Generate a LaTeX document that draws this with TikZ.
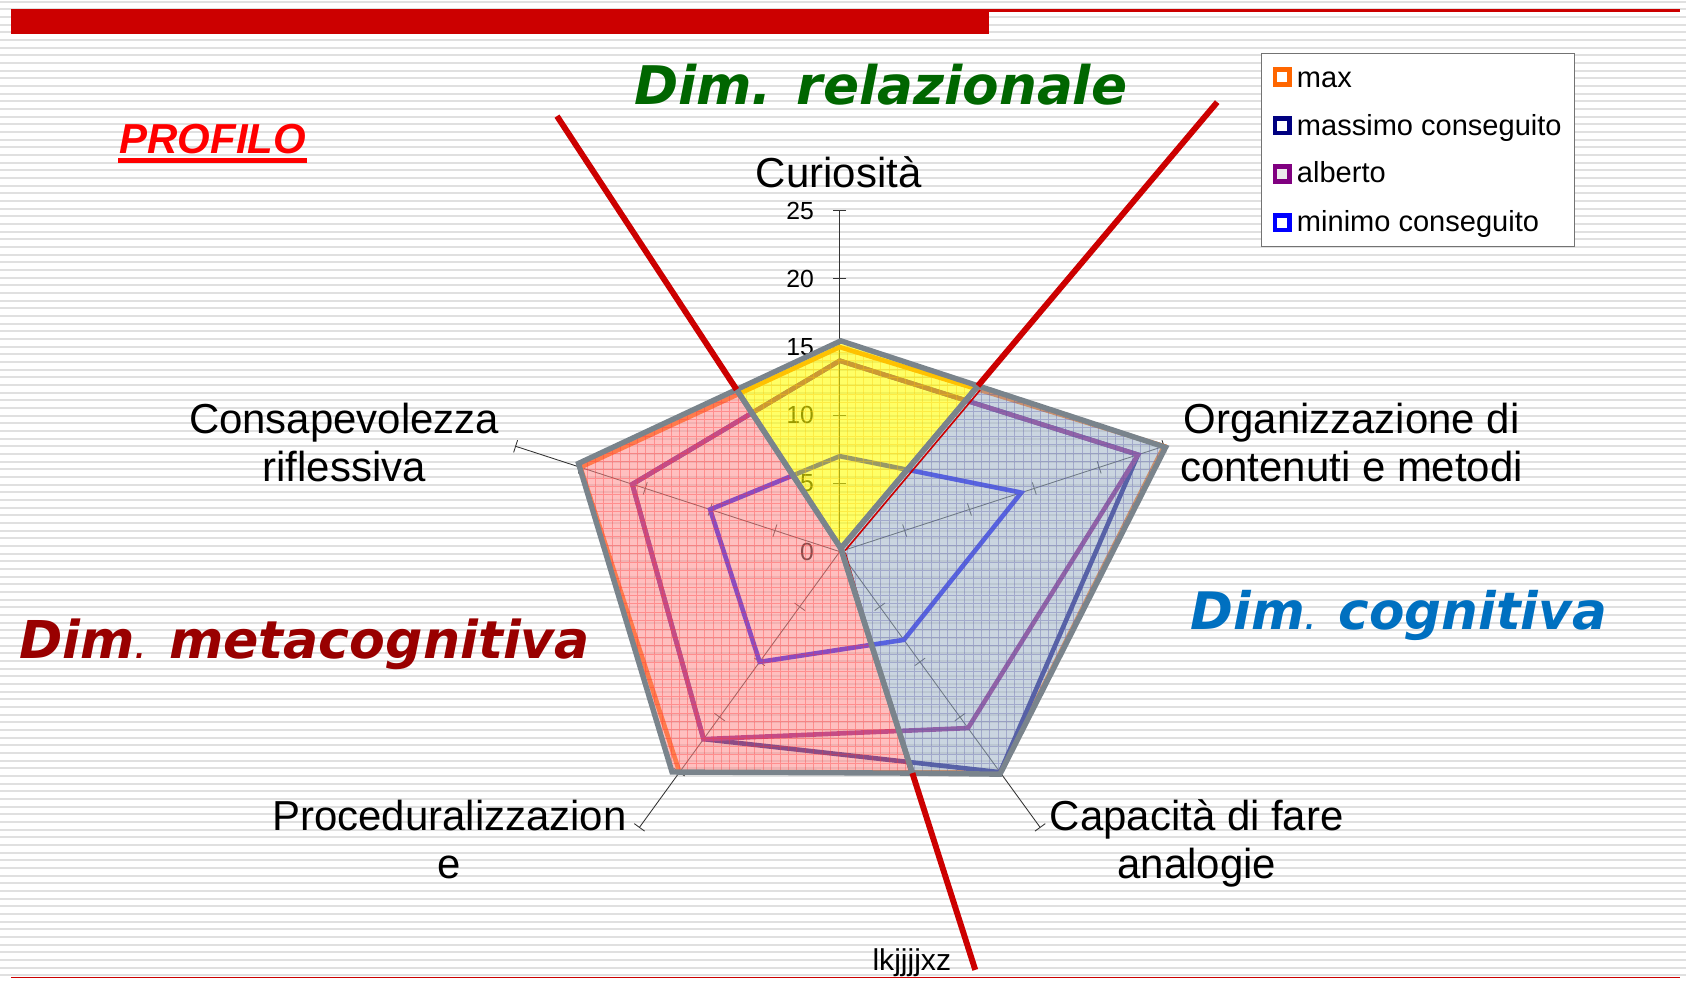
\documentclass[tikz,border=0pt]{standalone}
\usepackage{fontspec}
\setmainfont{Liberation Sans}
\newfontfamily\dimfont{DejaVu Sans}
\usetikzlibrary{calc}
\definecolor{barRed}{HTML}{CC0000}
\definecolor{stripeGray}{HTML}{E0E0E0}
\definecolor{dimGreen}{HTML}{006600}
\definecolor{dimBlue}{HTML}{0070C0}
\definecolor{dimRed}{HTML}{990000}
\definecolor{profRed}{HTML}{FF0000}
\definecolor{serMax}{HTML}{FF6600}
\definecolor{serMass}{HTML}{000080}
\definecolor{serAlb}{HTML}{800080}
\definecolor{serMin}{HTML}{0000FF}
\definecolor{regGray}{HTML}{7A848C}
\definecolor{regYellow}{HTML}{FFFF00}
\definecolor{regPink}{HTML}{FF8C8C}
\definecolor{regBlue}{HTML}{A0B4C8}
\newcommand\dimfnt[1]{\dimfont\bfseries\itshape\fontsize{#1}{#1}\selectfont}
\tikzset{
  axisline/.style={draw=black!80, line width=0.8pt},
  series/.style={line width=4.3pt, line join=miter},
  regionfill/.style={fill opacity=0.55},
  gridlines/.style={line width=0.7pt, draw opacity=0.35},
  regionborder/.style={draw=regGray, line width=5pt, line join=miter},
  divider/.style={draw=barRed, line width=5.5pt},
  catlabel/.style={font=\fontsize{39pt}{45pt}\selectfont, inner sep=0pt, anchor=base},
  ticklabel/.style={font=\fontsize{23pt}{26pt}\selectfont, inner sep=0pt, anchor=east},
  legtext/.style={font=\fontsize{27pt}{30pt}\selectfont, inner sep=0pt, anchor=base west},
  legmark/.style={line width=4.3pt, fill=white},
  dimtitle/.style={inner sep=0pt, anchor=base},
}
\begin{document}
\begin{tikzpicture}[x=1pt, y=-1pt]
\useasboundingbox (0,0) rectangle (1568,912);
% background
\fill[white] (0,0) rectangle (1568,912);
\foreach \i in {0,...,127} \fill[stripeGray] (0,{0.7+7.13*\i}) rectangle (1568,{2.5+7.13*\i});
% top and bottom rules
\fill[barRed] (10,8.7) rectangle (920,31.6);
\fill[barRed] (920,8.7) rectangle (1562,10.9);
\fill[barRed] (10,908.2) rectangle (1562,909.4);

% radar axes
\begin{scope}[shift={(781,513)}, x=12.68pt, y=12.68pt]
  \coordinate (O) at (0,0);
  \foreach \a in {90,18,-54,-126,162} {
    \draw[axisline] (O) -- (\a:25);
    \foreach \v in {5,10,15,20,25} \draw[axisline, rotate=\a] (\v,-0.47) -- (\v,0.47);
  }
\end{scope}
% value labels
\node[ticklabel] (t25) at (757,196) {25};
\node[ticklabel] (t20) at (757,259.4) {20};
\node[ticklabel] (t15) at (757,322.8) {15};
\node[ticklabel] (t10) at (757,386.2) {10};
\node[ticklabel] (t5) at (757,449.6) {5};
\node[ticklabel] (t0) at (757,513) {0};

% data series
\begin{scope}[shift={(781,513)}, x=12.68pt, y=12.68pt]
  \draw[series, serMax] (90:15) -- (18:25) -- (-54:20) -- (-126:20) -- (162:20) -- cycle;
  \draw[series, serMass] (90:14) -- (18:23) -- (-54:20) -- (-126:17) -- (162:16) -- cycle;
  \draw[series, serAlb] (90:14) -- (18:23) -- (-54:16) -- (-126:17) -- (162:16) -- cycle;
  \draw[series, serMin] (90:7) -- (18:14) -- (-54:8) -- (-126:10) -- (162:10) -- cycle;
\end{scope}

% region points
\coordinate (C) at (782,510);
\coordinate (P1) at (685,362.3);
\coordinate (T) at (782,317);
\coordinate (P2) at (909.5,358.8);
\coordinate (R) at (1084,416);
\coordinate (BR) at (930,720);
\coordinate (BM) at (848.5,719);
\coordinate (BL) at (625,718);
\coordinate (L) at (538,431);
\coordinate (r1) at (518,108);
\coordinate (r2) at (1132,95);
\coordinate (r3) at (907,902);

% region fills
\fill[regYellow, regionfill, fill opacity=0.6] (C) -- (P1) -- (T) -- (P2) -- cycle;
\fill[regPink, regionfill] (C) -- (P1) -- (L) -- (BL) -- (BM) -- cycle;
\fill[regBlue, regionfill] (C) -- (P2) -- (R) -- (BR) -- (BM) -- cycle;
\begin{scope}
  \clip (C) -- (P1) -- (T) -- (P2) -- cycle;
  \draw[gridlines, draw=yellow!60!orange, step=7.8pt] (500,760) grid (1100,300);
\end{scope}
\begin{scope}
  \clip (C) -- (P1) -- (L) -- (BL) -- (BM) -- cycle;
  \draw[gridlines, draw=red!80, step=7.8pt] (500,760) grid (900,300);
\end{scope}
\begin{scope}
  \clip (C) -- (P2) -- (R) -- (BR) -- (BM) -- cycle;
  \draw[gridlines, draw=blue!30!gray, step=7.8pt] (760,760) grid (1100,300);
\end{scope}
% thin red edge on cognitive region
\draw[barRed, line width=1.5pt] ($(C)+(4,2)$) -- ($(P2)+(2,4)$);
\draw[barRed, line width=1.5pt] ($(C)+(4,4)$) -- ($(BM)+(-2,0)$);
% region borders
\draw[regionborder] (C) -- (P1) -- (T) -- (P2) -- cycle;
\draw[regionborder] (C) -- (P1) -- (L) -- (BL) -- (BM) -- cycle;
\draw[regionborder] (C) -- (P2) -- (R) -- (BR) -- (BM) -- cycle;
% dividers
\draw[divider] (r1) -- (P1);
\draw[divider] (r2) -- (P2);
\draw[divider] (BM) -- (r3);

% category labels
\node[catlabel] (curLab) at (780,174) {Curiosità};
\node[catlabel] (orgLab1) at (1257,403) {Organizzazione di};
\node[catlabel] (orgLab2) at (1257,448) {contenuti e metodi};
\node[catlabel] (conLab1) at (320,403) {Consapevolezza};
\node[catlabel] (conLab2) at (320,448) {riflessiva};
\node[catlabel] (proLab1) at (418,772) {Proceduralizzazion};
\node[catlabel] (proLab2) at (418,817) {e};
\node[catlabel] (capLab1) at (1113,772) {Capacità di fare};
\node[catlabel] (capLab2) at (1113,817) {analogie};
\node[font=\fontsize{28pt}{32pt}\selectfont, inner sep=0pt, anchor=base] (lkLab) at (848,902.7) {lkjjjjxz};

% titles
\node[dimtitle, font=\dimfnt{49.5pt}, text=dimGreen] (titRel) at (819,97) {Dim. relazionale};
\node[dimtitle, font=\dimfnt{48pt}, text=dimBlue] (titCog) at (1301,585) {Dim{\fontsize{24pt}{24pt}\selectfont.} cognitiva};
\node[dimtitle, font=\dimfnt{48.5pt}, text=dimRed] (titMeta) at (283.5,612) {Dim{\fontsize{24pt}{24pt}\selectfont.} metacognitiva};
\node[dimtitle, font=\bfseries\itshape\fontsize{39pt}{45pt}\selectfont, text=profRed] (prof) at (198,143) {PROFILO};
\fill[profRed] ($(prof.base west)+(-1,4)$) rectangle ($(prof.base east)+(1,8.5)$);

% legend
\draw[draw=gray!90!black, line width=1.2pt, fill=white] (1173.3,49.6) rectangle (1464,229.4);
\draw[legmark, draw=serMax] (1185.7,64.8) rectangle (1199.3,78.4);
\draw[legmark, draw=serMass] (1185.7,110.0) rectangle (1199.3,123.6);
\draw[legmark, draw=serAlb, fill=gray!15] (1185.7,155.0) rectangle (1199.3,168.6);
\draw[legmark, draw=serMin] (1185.7,200.3) rectangle (1199.3,213.9);
\node[legtext] (legMax) at (1206,81.5) {max};
\node[legtext] (legMass) at (1206,125.6) {massimo conseguito};
\node[legtext] (legAlb) at (1206,170) {alberto};
\node[legtext] (legMin) at (1206,215.5) {minimo conseguito};
\end{tikzpicture}
\end{document}
